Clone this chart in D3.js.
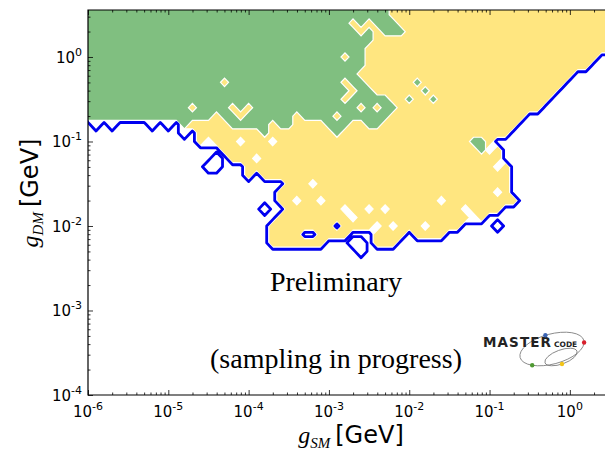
<!DOCTYPE html>
<html>
<head>
<meta charset="utf-8">
<script src="https://cdn.jsdelivr.net/npm/d3@7"></script>
<style>
  body { margin: 0; background: #ffffff; }
  svg { display: block; }
</style>
</head>
<body>
<svg id="chart" width="605" height="451"></svg>
<script>
// Scan grid: log10(g_SM) of the first column and column step, log10(g_DM) of the first row and row step
const gsmLogStart = -6.0, gsmLogStep = 0.1;
const gdmLogStart = 0.6, gdmLogStep = -0.1;
const gridCols = 66;

// Region of each grid point, run-length coded per row (top row = largest g_DM):
// g = 68% CL, y = 95% CL, w = inside the outer (blue) contour only, . = outside
const regionRuns = [
  "g38 y28",
  "g38 y28",
  "g33 y1 g1 y1 g3 y27",
  "g34 y1 g1 y1 g3 y26",
  "g36 y30",
  "g35 y31",
  "g32 y1 g2 y29 .2",
  "g35 y28 .3",
  "g34 y27 .5",
  "g17 y1 g14 y1 g2 y6 g1 y18 .6",
  "g33 y1 g2 y6 g1 y16 .7",
  "g32 y1 g5 y2 g1 y2 g1 y14 .8",
  "g13 y1 g4 y1 g1 y1 g13 y1 g1 y1 g2 y18 .9",
  "g16 y1 g2 y1 g6 y1 g4 y1 g6 y17 .11",
  ".1 w1 .1 w1 .4 w1 .1 w1 .1 g1 y5 g5 y1 g2 y4 g3 y2 g2 y17 .12",
  ".12 w1 .1 y8 g1 y8 g1 y21 .13",
  ".14 y1 w1 y3 w1 y3 w1 y24 g2 y1 .15",
  ".17 y32 g1 w1 y1 .14",
  ".16 w1 .1 y3 w1 y30 .14",
  ".15 w2 .3 y31 w1 y1 .13",
  ".20 y1 .1 y31 .13",
  ".25 y3 w1 y24 .13",
  ".24 y27 w1 y1 .13",
  ".24 y2 w1 y2 w1 y14 w1 y9 .12",
  ".22 w1 .2 y7 w1 y2 w1 y1 w1 y9 w1 y4 .14",
  ".24 y9 w1 y14 w1 y1 .16",
  ".23 y8 .1 y4 w1 y1 w1 y3 w1 y4 .4 w1 .14",
  ".23 y4 .2 y4 .3 y4 .1 y4 .21",
  ".23 y7 .3 w2 .1 y3 .27",
  ".34 w1 .31",
  ".66"
];

// Axis decades (exponents of the labelled ticks)
const xTickExponents = [-6, -5, -4, -3, -2, -1, 0];
const yTickExponents = [-4, -3, -2, -1, 0];

const plot = { left: 88, right: 606, top: 10, bottom: 395 };
const colors = { green: "#80bf80", yellow: "#ffe680", blue: "#0000f0" };

const svg = d3.select("#chart");

const x = d3.scaleLog().domain([1e-6, 10 ** 0.45]).range([plot.left, plot.right]);
const y = d3.scaleLog().domain([1e-4, 10 ** 0.556]).range([plot.bottom, plot.top]);

// Decode the region grid
const cells = regionRuns.map(row =>
  row.split(" ").map(t => t[0].repeat(+t.slice(1))).join("")
     .padEnd(gridCols, ".").slice(0, gridCols)
).join("");
const gridRows = regionRuns.length;

const inYellow = Array.from(cells, c => (c === "y" || c === "g") ? 1 : 0);
const inGreen = Array.from(cells, c => c === "g" ? 1 : 0);
const inOuter = Array.from(cells, c => c !== "." ? 1 : 0);

const contours = d3.contours().size([gridCols, gridRows]);

// grid coordinates -> (g_SM, g_DM) -> pixels
const toPlot = d3.geoTransform({
  point(gx, gy) {
    const gsm = 10 ** (gsmLogStart + (gx - 0.5) * gsmLogStep);
    const gdm = 10 ** (gdmLogStart + (gy - 0.5) * gdmLogStep);
    this.stream.point(x(gsm), y(gdm));
  }
});
const path = d3.geoPath(toPlot);

svg.append("defs").append("clipPath").attr("id", "plot-clip")
  .append("rect")
  .attr("x", plot.left).attr("y", plot.top)
  .attr("width", plot.right - plot.left).attr("height", plot.bottom - plot.top);

const regions = svg.append("g").attr("clip-path", "url(#plot-clip)");

regions.selectAll("path.yellow")
  .data(contours.thresholds([0.5])(inYellow))
  .join("path")
  .attr("class", "yellow")
  .attr("d", path)
  .attr("fill", colors.yellow)
  .attr("fill-rule", "evenodd")
  .attr("stroke", "#ffffff")
  .attr("stroke-width", 1.2);

regions.selectAll("path.green")
  .data(contours.thresholds([0.5])(inGreen))
  .join("path")
  .attr("class", "green")
  .attr("d", path)
  .attr("fill", colors.green)
  .attr("fill-rule", "evenodd")
  .attr("stroke", "#ffffff")
  .attr("stroke-width", 1.2);

regions.selectAll("path.outer")
  .data(contours.thresholds([0.25])(inOuter))
  .join("path")
  .attr("class", "outer")
  .attr("d", path)
  .attr("fill", "none")
  .attr("stroke", colors.blue)
  .attr("stroke-width", 2.8)
  .attr("stroke-linejoin", "round");

// Axes: inward ticks, majors at decades, minors at 2..9
const xAll = x.ticks();
const yAll = y.ticks();
const isMajor = v => Math.abs(Math.log10(v) - Math.round(Math.log10(v))) < 1e-9;
const xMajor = xAll.filter(isMajor), xMinor = xAll.filter(v => !isMajor(v));
const yMajor = yAll.filter(isMajor), yMinor = yAll.filter(v => !isMajor(v));

function addAxis(axisFn, scale, values, size, transform) {
  const g = svg.append("g").attr("transform", transform)
    .call(axisFn(scale).tickValues(values).tickSizeInner(-size).tickSizeOuter(0).tickFormat(""));
  g.select(".domain").remove();
  g.selectAll(".tick line").attr("stroke", "#000").attr("stroke-width", 0.8);
  return g;
}
addAxis(d3.axisBottom, x, xMajor, 5, `translate(0,${plot.bottom})`);
addAxis(d3.axisBottom, x, xMinor, 2.5, `translate(0,${plot.bottom})`);
addAxis(d3.axisTop, x, xMajor, 5, `translate(0,${plot.top})`);
addAxis(d3.axisTop, x, xMinor, 2.5, `translate(0,${plot.top})`);
addAxis(d3.axisLeft, y, yMajor, 5, `translate(${plot.left},0)`);
addAxis(d3.axisLeft, y, yMinor, 2.5, `translate(${plot.left},0)`);

// Frame
svg.append("path")
  .attr("d", `M${plot.right},${plot.top}H${plot.left}V${plot.bottom}H${plot.right}`)
  .attr("fill", "none").attr("stroke", "#000").attr("stroke-width", 1.2);

// Tick labels 10^n
const tickFont = "'DejaVu Sans', sans-serif";
const xl = svg.append("g").attr("font-family", tickFont).attr("fill", "#000");
xTickExponents.forEach(e => {
  const t = xl.append("text")
    .attr("x", x(10 ** e)).attr("y", plot.bottom + 22)
    .attr("text-anchor", "middle").attr("font-size", 15);
  t.append("tspan").text("10");
  t.append("tspan").attr("dy", -7).attr("font-size", 11).text(String(e));
});
const yl = svg.append("g").attr("font-family", tickFont).attr("fill", "#000");
yTickExponents.forEach(e => {
  const t = yl.append("text")
    .attr("x", plot.left - 6).attr("y", y(10 ** e) + 6)
    .attr("text-anchor", "end").attr("font-size", 15);
  t.append("tspan").text("10");
  t.append("tspan").attr("dy", -7).attr("font-size", 11).text(String(e));
});

// Axis titles
const mathFont = "'Liberation Serif', 'DejaVu Serif', serif";
function axisTitle(sel, sub) {
  sel.append("tspan").attr("font-family", mathFont).attr("font-style", "italic")
    .attr("font-size", 24).text("g");
  sel.append("tspan").attr("font-family", mathFont).attr("font-style", "italic")
    .attr("font-size", 15).attr("dy", 5).text(sub);
  sel.append("tspan").attr("font-family", tickFont).attr("font-size", 24)
    .attr("dy", -5).attr("dx", 5).text("[GeV]");
}
axisTitle(svg.append("text").attr("x", 351).attr("y", 443).attr("text-anchor", "middle"), "SM");
axisTitle(svg.append("text").attr("transform", "translate(38,193) rotate(-90)")
  .attr("text-anchor", "middle"), "DM");

// Annotations
svg.append("text").attr("x", 336).attr("y", 291).attr("text-anchor", "middle")
  .attr("font-family", mathFont).attr("font-size", 28).text("Preliminary");
svg.append("text").attr("x", 336).attr("y", 368).attr("text-anchor", "middle")
  .attr("font-family", mathFont).attr("font-size", 28).text("(sampling in progress)");

// MasterCode logo
const logo = svg.append("g");
const bigE = { cx: 552, cy: 349, rx: 33, ry: 15, rot: -15 };
const smallE = { cx: 561, cy: 357, rx: 17, ry: 7, rot: -20 };
[bigE, smallE].forEach(e => {
  logo.append("ellipse")
    .attr("transform", `translate(${e.cx},${e.cy}) rotate(${e.rot})`)
    .attr("rx", e.rx).attr("ry", e.ry)
    .attr("fill", "none").attr("stroke", "#7a7a7a").attr("stroke-width", 0.8);
});
function onEllipse(e, deg) {
  const t = deg * Math.PI / 180, r = e.rot * Math.PI / 180;
  const px = e.rx * Math.cos(t), py = e.ry * Math.sin(t);
  return [e.cx + px * Math.cos(r) - py * Math.sin(r), e.cy + px * Math.sin(r) + py * Math.cos(r)];
}
logo.append("text").attr("x", 483).attr("y", 347)
  .attr("font-family", "'DejaVu Sans', sans-serif").attr("font-weight", "bold")
  .attr("font-size", 13.5).attr("letter-spacing", 1.1).attr("fill", "#222").text("MASTER");
logo.append("text").attr("x", 554).attr("y", 347)
  .attr("font-family", "'DejaVu Sans', sans-serif").attr("font-weight", "bold")
  .attr("font-size", 7.5).attr("fill", "#222").text("CODE");
[
  { e: bigE, deg: -95, c: "#3a64b4" },
  { e: bigE, deg: 8, c: "#d8202c" },
  { e: bigE, deg: 135, c: "#4f9a32" },
  { e: smallE, deg: 95, c: "#f2c418" }
].forEach(d => {
  const [cx, cy] = onEllipse(d.e, d.deg);
  logo.append("circle").attr("cx", cx).attr("cy", cy).attr("r", 2.2).attr("fill", d.c);
});
</script>
</body>
</html>
